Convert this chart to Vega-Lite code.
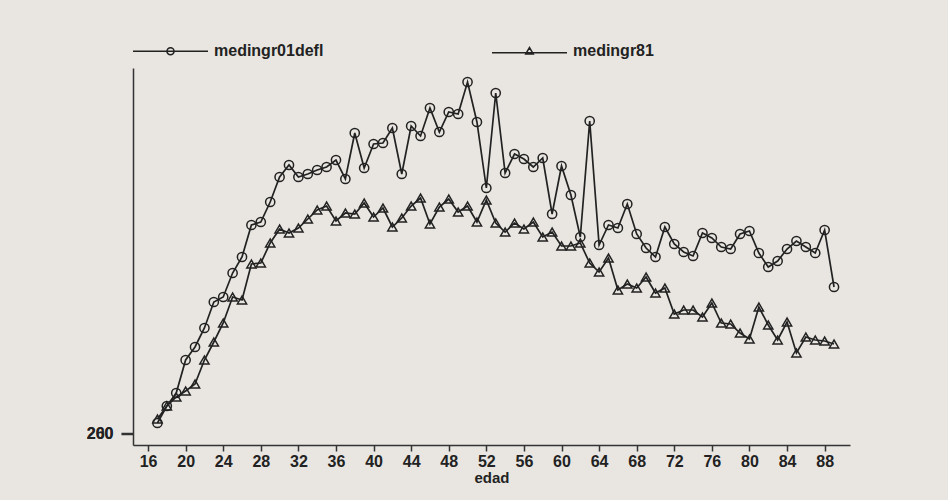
{
  "$schema": "https://vega.github.io/schema/vega-lite/v6.json",
  "width": 717,
  "height": 377,
  "autosize": {"type": "none"},
  "padding": {"left": 133, "top": 68, "right": 98, "bottom": 55},
  "background": "#e9e6e1",
  "config": {
    "view": {"stroke": null},
    "font": "Liberation Sans"
  },
  "datasets": {
    "d": [
      {"edad":17,"serie":"medingr01defl","valor":1060},{"edad":18,"serie":"medingr01defl","valor":2420},{"edad":19,"serie":"medingr01defl","valor":3460},{"edad":20,"serie":"medingr01defl","valor":6100},{"edad":21,"serie":"medingr01defl","valor":7140},{"edad":22,"serie":"medingr01defl","valor":8660},{"edad":23,"serie":"medingr01defl","valor":10740},{"edad":24,"serie":"medingr01defl","valor":11140},{"edad":25,"serie":"medingr01defl","valor":13060},{"edad":26,"serie":"medingr01defl","valor":14340},{"edad":27,"serie":"medingr01defl","valor":16900},{"edad":28,"serie":"medingr01defl","valor":17140},{"edad":29,"serie":"medingr01defl","valor":18740},{"edad":30,"serie":"medingr01defl","valor":20740},{"edad":31,"serie":"medingr01defl","valor":21700},{"edad":32,"serie":"medingr01defl","valor":20740},{"edad":33,"serie":"medingr01defl","valor":20980},{"edad":34,"serie":"medingr01defl","valor":21300},{"edad":35,"serie":"medingr01defl","valor":21540},{"edad":36,"serie":"medingr01defl","valor":22100},{"edad":37,"serie":"medingr01defl","valor":20580},{"edad":38,"serie":"medingr01defl","valor":24260},{"edad":39,"serie":"medingr01defl","valor":21460},{"edad":40,"serie":"medingr01defl","valor":23380},{"edad":41,"serie":"medingr01defl","valor":23460},{"edad":42,"serie":"medingr01defl","valor":24660},{"edad":43,"serie":"medingr01defl","valor":20980},{"edad":44,"serie":"medingr01defl","valor":24820},{"edad":45,"serie":"medingr01defl","valor":24020},{"edad":46,"serie":"medingr01defl","valor":26260},{"edad":47,"serie":"medingr01defl","valor":24340},{"edad":48,"serie":"medingr01defl","valor":25940},{"edad":49,"serie":"medingr01defl","valor":25780},{"edad":50,"serie":"medingr01defl","valor":28340},{"edad":51,"serie":"medingr01defl","valor":25140},{"edad":52,"serie":"medingr01defl","valor":19860},{"edad":53,"serie":"medingr01defl","valor":27460},{"edad":54,"serie":"medingr01defl","valor":21060},{"edad":55,"serie":"medingr01defl","valor":22580},{"edad":56,"serie":"medingr01defl","valor":22180},{"edad":57,"serie":"medingr01defl","valor":21540},{"edad":58,"serie":"medingr01defl","valor":22260},{"edad":59,"serie":"medingr01defl","valor":17780},{"edad":60,"serie":"medingr01defl","valor":21620},{"edad":61,"serie":"medingr01defl","valor":19300},{"edad":62,"serie":"medingr01defl","valor":15940},{"edad":63,"serie":"medingr01defl","valor":25220},{"edad":64,"serie":"medingr01defl","valor":15300},{"edad":65,"serie":"medingr01defl","valor":16900},{"edad":66,"serie":"medingr01defl","valor":16660},{"edad":67,"serie":"medingr01defl","valor":18580},{"edad":68,"serie":"medingr01defl","valor":16180},{"edad":69,"serie":"medingr01defl","valor":15060},{"edad":70,"serie":"medingr01defl","valor":14340},{"edad":71,"serie":"medingr01defl","valor":16740},{"edad":72,"serie":"medingr01defl","valor":15380},{"edad":73,"serie":"medingr01defl","valor":14740},{"edad":74,"serie":"medingr01defl","valor":14420},{"edad":75,"serie":"medingr01defl","valor":16260},{"edad":76,"serie":"medingr01defl","valor":15860},{"edad":77,"serie":"medingr01defl","valor":15140},{"edad":78,"serie":"medingr01defl","valor":14980},{"edad":79,"serie":"medingr01defl","valor":16180},{"edad":80,"serie":"medingr01defl","valor":16420},{"edad":81,"serie":"medingr01defl","valor":14660},{"edad":82,"serie":"medingr01defl","valor":13540},{"edad":83,"serie":"medingr01defl","valor":14020},{"edad":84,"serie":"medingr01defl","valor":14980},{"edad":85,"serie":"medingr01defl","valor":15620},{"edad":86,"serie":"medingr01defl","valor":15140},{"edad":87,"serie":"medingr01defl","valor":14660},{"edad":88,"serie":"medingr01defl","valor":16500},{"edad":89,"serie":"medingr01defl","valor":11940},
      {"edad":17,"serie":"medingr81","valor":1380},{"edad":18,"serie":"medingr81","valor":2420},{"edad":19,"serie":"medingr81","valor":3140},{"edad":20,"serie":"medingr81","valor":3620},{"edad":21,"serie":"medingr81","valor":4180},{"edad":22,"serie":"medingr81","valor":6100},{"edad":23,"serie":"medingr81","valor":7540},{"edad":24,"serie":"medingr81","valor":9060},{"edad":25,"serie":"medingr81","valor":11140},{"edad":26,"serie":"medingr81","valor":10900},{"edad":27,"serie":"medingr81","valor":13780},{"edad":28,"serie":"medingr81","valor":13860},{"edad":29,"serie":"medingr81","valor":15460},{"edad":30,"serie":"medingr81","valor":16580},{"edad":31,"serie":"medingr81","valor":16260},{"edad":32,"serie":"medingr81","valor":16660},{"edad":33,"serie":"medingr81","valor":17380},{"edad":34,"serie":"medingr81","valor":18100},{"edad":35,"serie":"medingr81","valor":18420},{"edad":36,"serie":"medingr81","valor":17220},{"edad":37,"serie":"medingr81","valor":17860},{"edad":38,"serie":"medingr81","valor":17780},{"edad":39,"serie":"medingr81","valor":18660},{"edad":40,"serie":"medingr81","valor":17540},{"edad":41,"serie":"medingr81","valor":18260},{"edad":42,"serie":"medingr81","valor":16740},{"edad":43,"serie":"medingr81","valor":17460},{"edad":44,"serie":"medingr81","valor":18420},{"edad":45,"serie":"medingr81","valor":19060},{"edad":46,"serie":"medingr81","valor":16980},{"edad":47,"serie":"medingr81","valor":18340},{"edad":48,"serie":"medingr81","valor":18980},{"edad":49,"serie":"medingr81","valor":17940},{"edad":50,"serie":"medingr81","valor":18420},{"edad":51,"serie":"medingr81","valor":17140},{"edad":52,"serie":"medingr81","valor":18900},{"edad":53,"serie":"medingr81","valor":17060},{"edad":54,"serie":"medingr81","valor":16340},{"edad":55,"serie":"medingr81","valor":17060},{"edad":56,"serie":"medingr81","valor":16580},{"edad":57,"serie":"medingr81","valor":17140},{"edad":58,"serie":"medingr81","valor":15940},{"edad":59,"serie":"medingr81","valor":16340},{"edad":60,"serie":"medingr81","valor":15220},{"edad":61,"serie":"medingr81","valor":15220},{"edad":62,"serie":"medingr81","valor":15460},{"edad":63,"serie":"medingr81","valor":13860},{"edad":64,"serie":"medingr81","valor":13140},{"edad":65,"serie":"medingr81","valor":14260},{"edad":66,"serie":"medingr81","valor":11700},{"edad":67,"serie":"medingr81","valor":12180},{"edad":68,"serie":"medingr81","valor":11860},{"edad":69,"serie":"medingr81","valor":12740},{"edad":70,"serie":"medingr81","valor":11460},{"edad":71,"serie":"medingr81","valor":11860},{"edad":72,"serie":"medingr81","valor":9780},{"edad":73,"serie":"medingr81","valor":10100},{"edad":74,"serie":"medingr81","valor":10100},{"edad":75,"serie":"medingr81","valor":9540},{"edad":76,"serie":"medingr81","valor":10660},{"edad":77,"serie":"medingr81","valor":9060},{"edad":78,"serie":"medingr81","valor":8980},{"edad":79,"serie":"medingr81","valor":8260},{"edad":80,"serie":"medingr81","valor":7780},{"edad":81,"serie":"medingr81","valor":10340},{"edad":82,"serie":"medingr81","valor":8900},{"edad":83,"serie":"medingr81","valor":7700},{"edad":84,"serie":"medingr81","valor":9140},{"edad":85,"serie":"medingr81","valor":6660},{"edad":86,"serie":"medingr81","valor":7940},{"edad":87,"serie":"medingr81","valor":7700},{"edad":88,"serie":"medingr81","valor":7620},{"edad":89,"serie":"medingr81","valor":7380}
    ]
  },
  "data": {"name": "d"},
  "encoding": {
    "x": {
      "field": "edad", "type": "quantitative",
      "scale": {"domain": [14.4, 90.7], "nice": false, "zero": false},
      "axis": {
        "values": [16,20,24,28,32,36,40,44,48,52,56,60,64,68,72,76,80,84,88],
        "title": "edad", "titleFontSize": 15, "titleFontWeight": "bold", "titleColor": "#222", "titlePadding": 1,
        "labelFontSize": 16, "labelFontWeight": "bold", "labelColor": "#222", "labelPadding": 2,
        "tickSize": 6, "tickColor": "#333", "tickWidth": 1.5,
        "domainColor": "#333", "domainWidth": 1.5, "grid": false, "labelFlush": false
      }
    },
    "y": {
      "field": "valor", "type": "quantitative",
      "scale": {"domain": [-700, 29460], "nice": false, "zero": false},
      "axis": {
        "values": [200, 260],
        "title": null,
        "labelFontSize": 16, "labelFontWeight": "bold", "labelColor": "#222", "labelPadding": 8,
        "labelOverlap": false, "labelFlush": false,
        "tickSize": 12, "tickColor": "#333", "tickWidth": 1.5,
        "domainColor": "#333", "domainWidth": 1.5, "grid": false
      }
    }
  },
  "layer": [
    {
      "mark": {"type": "line", "strokeWidth": 1.7},
      "encoding": {
        "color": {
          "field": "serie", "type": "nominal",
          "scale": {"domain": ["medingr01defl", "medingr81"], "range": ["#222222", "#222222"]},
          "legend": {
            "orient": "none", "legendX": -1, "legendY": -55.5,
            "direction": "horizontal", "columns": 2, "title": null,
            "padding": 0, "columnPadding": 165,
            "symbolSize": 5625, "symbolStrokeWidth": 1.5, "symbolStrokeColor": "#222222",
            "symbolFillColor": "transparent", "symbolType": "M-1,0H1M-0.095,0A0.095,0.095,0,1,1,0.095,0A0.095,0.095,0,1,1,-0.095,0",
            "labelFontSize": 16, "labelFontWeight": "bold", "labelColor": "#222", "labelOffset": 5,
            "encode": {
              "symbols": {
                "update": {
                  "shape": {"signal": "datum.value === 'medingr81' ? 'M-1,0.04H1M-0.1,0.07L0,-0.1L0.1,0.07Z' : 'M-1,0H1M-0.095,0A0.095,0.095,0,1,1,0.095,0A0.095,0.095,0,1,1,-0.095,0'"},
                  "fill": {"value": "transparent"},
                  "stroke": {"value": "#222222"}
                }
              }
            }
          }
        }
      }
    },
    {
      "transform": [{"filter": "datum.serie === 'medingr01defl'"}],
      "mark": {"type": "point", "shape": "circle", "filled": false, "size": 85, "strokeWidth": 1.5, "color": "#222222", "opacity": 1}
    },
    {
      "transform": [{"filter": "datum.serie === 'medingr81'"}],
      "mark": {"type": "point", "shape": "triangle-up", "filled": false, "size": 85, "strokeWidth": 1.5, "color": "#222222", "opacity": 1}
    }
  ]
}
